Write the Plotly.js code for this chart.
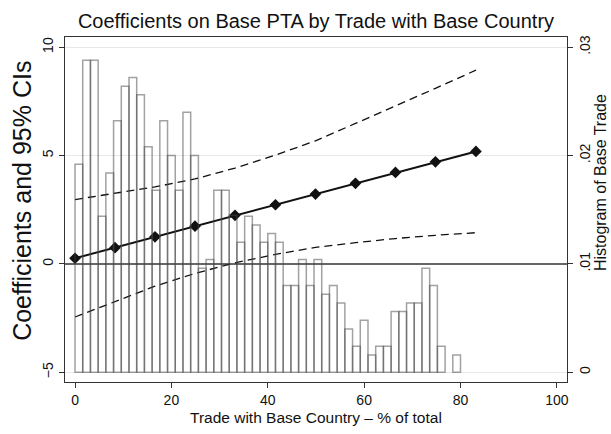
<!DOCTYPE html>
<html>
<head>
<meta charset="utf-8">
<script src="https://cdn.plot.ly/plotly-3.0.1.min.js"></script>
<style>
html,body{margin:0;padding:0;background:#fff;}
#chart{width:611px;height:434px;}
</style>
</head>
<body>
<div id="chart"></div>
<script>
// Histogram of base trade (density), bins of width 1.6 starting at 0
const binStart = 0;
const binWidth = 1.6;
const density = [
  0.0192, 0.0288, 0.0288, 0.0144, 0.0184, 0.0232, 0.0264, 0.0272, 0.0256, 0.0208,
  0.0168, 0.0232, 0.0200, 0.0168, 0.0240, 0.0200, 0.0096, 0.0104, 0.0168, 0.0168,
  0.0145, 0.0120, 0.0144, 0.0136, 0.0120, 0.0128, 0.0120, 0.0080, 0.0080, 0.0104,
  0.0080, 0.0104, 0.0072, 0.0080, 0.0064, 0.0040, 0.0024, 0.0048, 0.0016, 0.0024,
  0.0024, 0.0056, 0.0056, 0.0064, 0.0064, 0.0096, 0.0080, 0.0024, null, 0.0016
];

// Marginal effects and 95% CIs
const tradeShare = [0, 8.3, 16.6, 24.9, 33.2, 41.6, 49.9, 58.2, 66.5, 74.8, 83.2];
const coef  = [0.26, 0.75, 1.25, 1.74, 2.24, 2.73, 3.22, 3.72, 4.22, 4.71, 5.19];
const upper = [2.97, 3.25, 3.55, 3.92, 4.42, 5.02, 5.68, 6.48, 7.28, 8.10, 8.94];
const lower = [-2.45, -1.75, -1.03, -0.44, 0.05, 0.44, 0.76, 0.98, 1.17, 1.32, 1.44];

const yTicks = [-5, 0, 5, 10];
const yTickText = ['\u22125', '0', '5', '10'];
const y2Ticks = [0, 0.01, 0.02, 0.03];
const y2TickText = ['0', '.01', '.02', '.03'];
const xTicks = [0, 20, 40, 60, 80, 100];

const binCenters = density.map((_, i) => binStart + binWidth * (i + 0.5));

const FONT = 'Liberation Sans, Arial, Helvetica, sans-serif';

const yRange = [-5.45, 10.47];
// right axis: density d = (y + 5) / 500
const y2Range = yRange.map(v => (v + 5) / 500);

const traces = [
  {
    type: 'bar',
    x: binCenters,
    y: density,
    width: binWidth,
    yaxis: 'y2',
    marker: {color: 'rgba(0,0,0,0)', line: {color: 'rgba(70,70,70,0.5)', width: 1.5}},
    hoverinfo: 'skip',
    showlegend: false
  },
  {
    type: 'scatter', mode: 'lines',
    x: tradeShare, y: upper,
    line: {color: '#111', width: 1.3, dash: '8px,5px'},
    showlegend: false
  },
  {
    type: 'scatter', mode: 'lines',
    x: tradeShare, y: lower,
    line: {color: '#111', width: 1.3, dash: '8px,5px'},
    showlegend: false
  },
  {
    type: 'scatter', mode: 'lines+markers',
    x: tradeShare, y: coef,
    line: {color: '#111', width: 2},
    marker: {symbol: 'diamond', size: 9, color: '#111'},
    showlegend: false
  }
];

const layout = {
  width: 611, height: 434,
  margin: {l: 65, r: 44, t: 37, b: 52},
  paper_bgcolor: '#fff', plot_bgcolor: '#fff',
  font: {family: FONT, color: '#111', size: 14},
  title: {
    text: 'Coefficients on Base PTA by Trade with Base Country',
    font: {family: FONT, size: 20, color: '#111'},
    x: 0.5, xanchor: 'center', xref: 'paper', y: 0.952, yref: 'container', yanchor: 'middle'
  },
  xaxis: {
    range: [-2.08, 102.1],
    tickvals: xTicks, ticktext: xTicks.map(String),
    ticks: 'outside', ticklen: 5, tickcolor: '#333', tickwidth: 1,
    showline: true, linecolor: '#333', linewidth: 1, mirror: true,
    showgrid: false, zeroline: false,
    tickfont: {family: FONT, size: 14, color: '#111'}
  },
  yaxis: {
    range: yRange,
    tickvals: yTicks, ticktext: yTickText, tickangle: -90,
    ticks: 'outside', ticklen: 5, tickcolor: '#333', tickwidth: 1,
    showline: true, linecolor: '#333', linewidth: 1,
    showgrid: true, gridcolor: '#e8e8e8', gridwidth: 1,
    zeroline: true, zerolinecolor: '#666', zerolinewidth: 2,
    tickfont: {family: FONT, size: 14, color: '#111'}
  },
  yaxis2: {
    overlaying: 'y', side: 'right',
    range: y2Range,
    tickvals: y2Ticks, ticktext: y2TickText, tickangle: -90,
    ticks: 'outside', ticklen: 5, tickcolor: '#333', tickwidth: 1,
    showline: true, linecolor: '#333', linewidth: 1,
    showgrid: false, zeroline: false,
    tickfont: {family: FONT, size: 14, color: '#111'}
  },
  annotations: [
    {
      text: 'Coefficients and 95% CIs', textangle: -90,
      xref: 'paper', yref: 'paper', x: -0.0857, y: 0.525,
      xanchor: 'center', yanchor: 'middle', showarrow: false,
      font: {family: FONT, size: 25, color: '#111'}
    },
    {
      text: 'Histogram of Base Trade', textangle: -90,
      xref: 'paper', yref: 'paper', x: 1.068, y: 0.577,
      xanchor: 'center', yanchor: 'middle', showarrow: false,
      font: {family: FONT, size: 16, color: '#111'}
    },
    {
      text: 'Trade with Base Country \u2013 % of total',
      xref: 'paper', yref: 'paper', x: 0.5, y: -0.102,
      xanchor: 'center', yanchor: 'middle', showarrow: false,
      font: {family: FONT, size: 15.5, color: '#111'}
    }
  ],
  showlegend: false
};

Plotly.newPlot('chart', traces, layout, {staticPlot: true, displayModeBar: false});
</script>
</body>
</html>
